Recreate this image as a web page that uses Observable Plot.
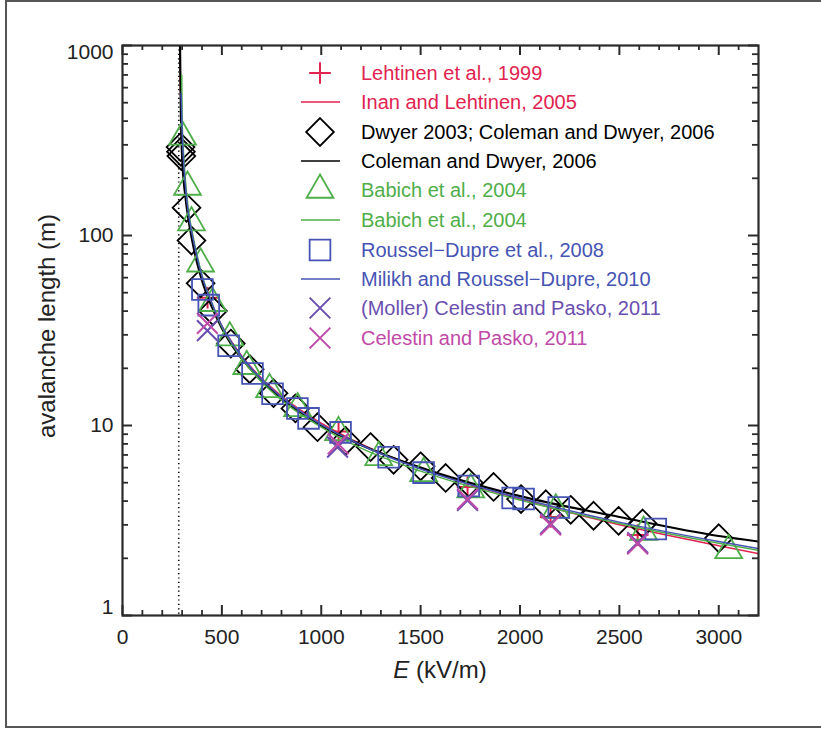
<!DOCTYPE html>
<html><head><meta charset="utf-8">
<script src="https://cdn.jsdelivr.net/npm/d3@7"></script>
<script src="https://cdn.jsdelivr.net/npm/@observablehq/plot@0.6"></script>
<style>body{margin:0;background:#fff} svg{display:block}</style>
</head><body><div id="chart"></div>
<script>
// ---- data ----
const thresholdE = 283;

const lehtinen99E = [428, 1087, 1736, 2154, 2592];
const lehtinen99L = [47, 9.3, 4.75, 3.3, 2.65];

const inanLineE = [289, 291, 294, 298, 305, 315, 330, 350, 375, 400, 450, 500, 550, 600, 700, 800, 1000, 1200, 1500, 2000, 2500, 3000, 3200];
const inanLineL = [1150, 720, 440, 305, 220, 172, 130, 99, 75, 60, 43.5, 33.5, 27.5, 23.2, 17.7, 14.3, 10.3, 8.0, 5.95, 4.1, 3.0, 2.33, 2.12];

const dwyerE = [292, 294, 296, 322, 347, 393, 455, 545, 640, 760, 870, 981, 1122, 1248, 1364, 1500, 1626, 1742, 1867, 2005, 2130, 2255, 2370, 2496, 2617, 3000];
const dwyerL = [292, 276, 262, 140, 94, 56, 40, 27, 19.8, 14.8, 12.3, 9.8, 8.3, 7.7, 6.6, 6.1, 5.3, 5.0, 4.75, 4.1, 3.85, 3.6, 3.35, 3.15, 3.05, 2.55];

const colemanLineE = [289, 291, 294, 298, 305, 315, 330, 350, 375, 400, 450, 500, 550, 600, 700, 800, 1000, 1200, 1500, 2000, 2500, 3000, 3200];
const colemanLineL = [1150, 700, 420, 290, 210, 165, 125, 95, 72, 58, 42, 32.5, 26.5, 22.5, 17.2, 13.9, 10.0, 7.9, 6.0, 4.25, 3.3, 2.62, 2.45];

const babichE = [302, 327, 347, 393, 453, 540, 625, 740, 881, 1087, 1289, 1515, 1752, 2180, 2622, 3050];
const babichL = [330, 180, 117, 71, 44, 29, 20.5, 15.5, 12.3, 9.2, 6.8, 5.6, 4.6, 3.6, 2.75, 2.2];

const babichLineE = [298, 300, 305, 315, 330, 350, 375, 400, 450, 500, 550, 600, 700, 800, 1000, 1200, 1500, 2000, 2500, 3000, 3200];
const babichLineL = [700, 420, 300, 205, 140, 105, 79, 62, 44, 33, 27, 22.5, 17, 13.6, 9.8, 7.6, 5.75, 4.05, 3.05, 2.4, 2.2];

const rousselE = [402, 434, 534, 654, 755, 880, 936, 1097, 1339, 1515, 1742, 1963, 2018, 2195, 2683];
const rousselL = [52, 43, 26.3, 18.8, 14.7, 12.3, 10.9, 9.2, 6.8, 5.65, 4.8, 4.15, 4.1, 3.7, 2.85];

const milikhLineE = [295, 300, 305, 315, 330, 350, 375, 400, 450, 500, 550, 600, 700, 800, 1000, 1200, 1500, 2000, 2500, 3000, 3200];
const milikhLineL = [560, 360, 270, 190, 135, 102, 77, 61, 44, 33.5, 27.3, 23, 17.5, 14.1, 10.1, 7.9, 5.9, 4.15, 3.1, 2.45, 2.25];

const mollerE = [427, 1082, 1736, 2154, 2592];
const mollerL = [31.6, 7.7, 4.03, 3.05, 2.42];

const celestinE = [427, 1085, 1736, 2154, 2592];
const celestinL = [34.5, 8.0, 4.1, 3.0, 2.38];

const xTickLabels = [0, 500, 1000, 1500, 2000, 2500, 3000];
const xMinorTicks = [100, 200, 300, 400, 600, 700, 800, 900, 1100, 1200, 1300, 1400, 1600, 1700, 1800, 1900, 2100, 2200, 2300, 2400, 2600, 2700, 2800, 2900, 3100];
const yTickLabels = [1, 10, 100, 1000];
const yMinorTicks = [2,3,4,5,6,7,8,9,20,30,40,50,60,70,80,90,200,300,400,500,600,700,800,900];

const legendLabels = [
  "Lehtinen et al., 1999",
  "Inan and Lehtinen, 2005",
  "Dwyer 2003; Coleman and Dwyer, 2006",
  "Coleman and Dwyer, 2006",
  "Babich et al., 2004",
  "Babich et al., 2004",
  "Roussel\u2212Dupre et al., 2008",
  "Milikh and Roussel\u2212Dupre, 2010",
  "(Moller) Celestin and Pasko, 2011",
  "Celestin and Pasko, 2011"
];

// ---- styling ----
const RED = "#e0234f", BLACK = "#000", GREEN = "#4fae49", BLUE = "#4654b4", PURPLE = "#6a4fb0", MAGENTA = "#c04aa8";
const W = 821, H = 731, ML = 122, MR = 63, MT = 45, MB = 116;
const FW = W - ML - MR, FH = H - MT - MB;
const AX = "#2a2a2a";
const FONT = "'Liberation Sans', Arial, Helvetica, sans-serif";

const zip = (E, L) => E.map((e, i) => ({E: e, L: L[i]}));

const sym = {
  plus: {type: "plus", r: 7, sw: 2},
  diamond: {type: "diamond2", r: 12.5, sw: 1.8},
  triangle: {type: "triangle2", r: 12.8, sw: 1.8},
  square: {type: "square2", r: 13.2, sw: 1.8},
  times: {type: "times", r: 9.5, sw: 2}
};
const dot = (E, L, s, color) => Plot.dot(zip(E, L), {x: "E", y: "L", symbol: s.type, r: s.r, stroke: color, strokeWidth: s.sw, fill: "none", clip: true});
const line = (E, L, color, sw) => Plot.line(zip(E, L), {x: "E", y: "L", stroke: color, strokeWidth: sw, curve: "monotone-x", clip: true});

const svg = Plot.plot({
  width: W, height: H,
  marginLeft: ML, marginRight: MR, marginTop: MT, marginBottom: MB,
  style: {fontFamily: FONT, fontSize: "21px", color: "#222", background: "#fff"},
  x: {domain: [0, 3200]},
  y: {type: "log", domain: [1, 1000]},
  marks: [
    Plot.ruleX([thresholdE], {stroke: "#000", strokeWidth: 1.6, strokeDasharray: "1.2,3.2"}),
    dot(lehtinen99E, lehtinen99L, sym.plus, RED),
    line(inanLineE, inanLineL, RED, 1.5),
    dot(dwyerE, dwyerL, sym.diamond, BLACK),
    line(colemanLineE, colemanLineL, BLACK, 2.2),
    dot(babichE, babichL, sym.triangle, GREEN),
    line(babichLineE, babichLineL, GREEN, 1.5),
    dot(rousselE, rousselL, sym.square, BLUE),
    line(milikhLineE, milikhLineL, BLUE, 1.5),
    dot(mollerE, mollerL, sym.times, PURPLE),
    dot(celestinE, celestinL, sym.times, MAGENTA),
    // inward ticks
    Plot.tickX(xTickLabels, {x: d => d, insetTop: FH - 10, stroke: AX, strokeWidth: 2}),
    Plot.tickX(xTickLabels, {x: d => d, insetBottom: FH - 10, stroke: AX, strokeWidth: 2}),
    Plot.tickX(xMinorTicks, {x: d => d, insetTop: FH - 5, stroke: AX, strokeWidth: 1.8}),
    Plot.tickX(xMinorTicks, {x: d => d, insetBottom: FH - 5, stroke: AX, strokeWidth: 1.8}),
    Plot.tickY(yTickLabels, {y: d => d, insetRight: FW - 10, stroke: AX, strokeWidth: 2}),
    Plot.tickY(yTickLabels, {y: d => d, insetLeft: FW - 10, stroke: AX, strokeWidth: 2}),
    Plot.tickY(yMinorTicks, {y: d => d, insetRight: FW - 6, stroke: AX, strokeWidth: 1.8}),
    Plot.tickY(yMinorTicks, {y: d => d, insetLeft: FW - 6, stroke: AX, strokeWidth: 1.8}),
    Plot.frame({stroke: AX, strokeWidth: 2.2}),
    Plot.axisX({ticks: xTickLabels, tickSize: 0, tickPadding: 14, label: null, tickFormat: d => String(d)}),
    Plot.axisY({ticks: [10, 100], tickSize: 0, tickPadding: 9, label: null, tickFormat: d => String(d)}),
    Plot.axisY({ticks: [1], tickSize: 0, tickPadding: 9, label: null, dy: -8, tickFormat: d => String(d)}),
    Plot.axisY({ticks: [1000], tickSize: 0, tickPadding: 9, label: null, dy: 7, tickFormat: d => String(d)})
  ]
});

const s = d3.select(svg);
// tick label text size
s.selectAll('[aria-label*="tick label"] text').style("font-size", "21px").style("font-family", FONT);

// outer figure border
s.insert("rect", ":first-child").attr("x", 6).attr("y", 1).attr("width", 900).attr("height", 726)
  .attr("fill", "none").attr("stroke", "#555").attr("stroke-width", 2);

// axis titles
s.append("text").attr("transform", "translate(55,326) rotate(-90)")
  .attr("text-anchor", "middle").attr("font-size", 24).attr("fill", "#222")
  .attr("font-family", FONT).text("avalanche length (m)");
const xt = s.append("text").attr("x", 440).attr("y", 678).attr("text-anchor", "middle")
  .attr("font-size", 24).attr("fill", "#222").attr("font-family", FONT);
xt.append("tspan").attr("font-style", "italic").text("E");
xt.append("tspan").text(" (kV/m)");

// legend
const rows = [
  {kind: "sym", s: sym.plus, d3t: d3.symbolPlus, c: RED},
  {kind: "line", c: RED},
  {kind: "sym", s: sym.diamond, d3t: d3.symbolDiamond2, c: BLACK},
  {kind: "line", c: BLACK},
  {kind: "sym", s: sym.triangle, d3t: d3.symbolTriangle2, c: GREEN},
  {kind: "line", c: GREEN},
  {kind: "sym", s: sym.square, d3t: d3.symbolSquare2, c: BLUE},
  {kind: "line", c: BLUE},
  {kind: "sym", s: sym.times, d3t: d3.symbolTimes, c: PURPLE},
  {kind: "sym", s: sym.times, d3t: d3.symbolTimes, c: MAGENTA}
];
const rowY = [73, 102, 132, 161, 190, 220, 250, 279, 308, 338];
const lg = s.append("g").attr("font-family", FONT).attr("text-anchor", "start");
rows.forEach((r, i) => {
  const y = rowY[i];
  if (r.kind === "sym") {
    lg.append("path").attr("transform", `translate(320,${y})`)
      .attr("d", d3.symbol(r.d3t, Math.PI * r.s.r * r.s.r)())
      .attr("fill", "none").attr("stroke", r.c).attr("stroke-width", r.s.sw);
  } else {
    lg.append("line").attr("x1", 301).attr("x2", 340).attr("y1", y).attr("y2", y)
      .attr("stroke", r.c).attr("stroke-width", 1.6);
  }
  lg.append("text").attr("x", 361).attr("y", y).attr("dy", "0.36em")
    .attr("text-anchor", "start").attr("font-size", 20).attr("fill", r.c).text(legendLabels[i]);
});

document.getElementById("chart").appendChild(svg);
</script>
</body></html>
